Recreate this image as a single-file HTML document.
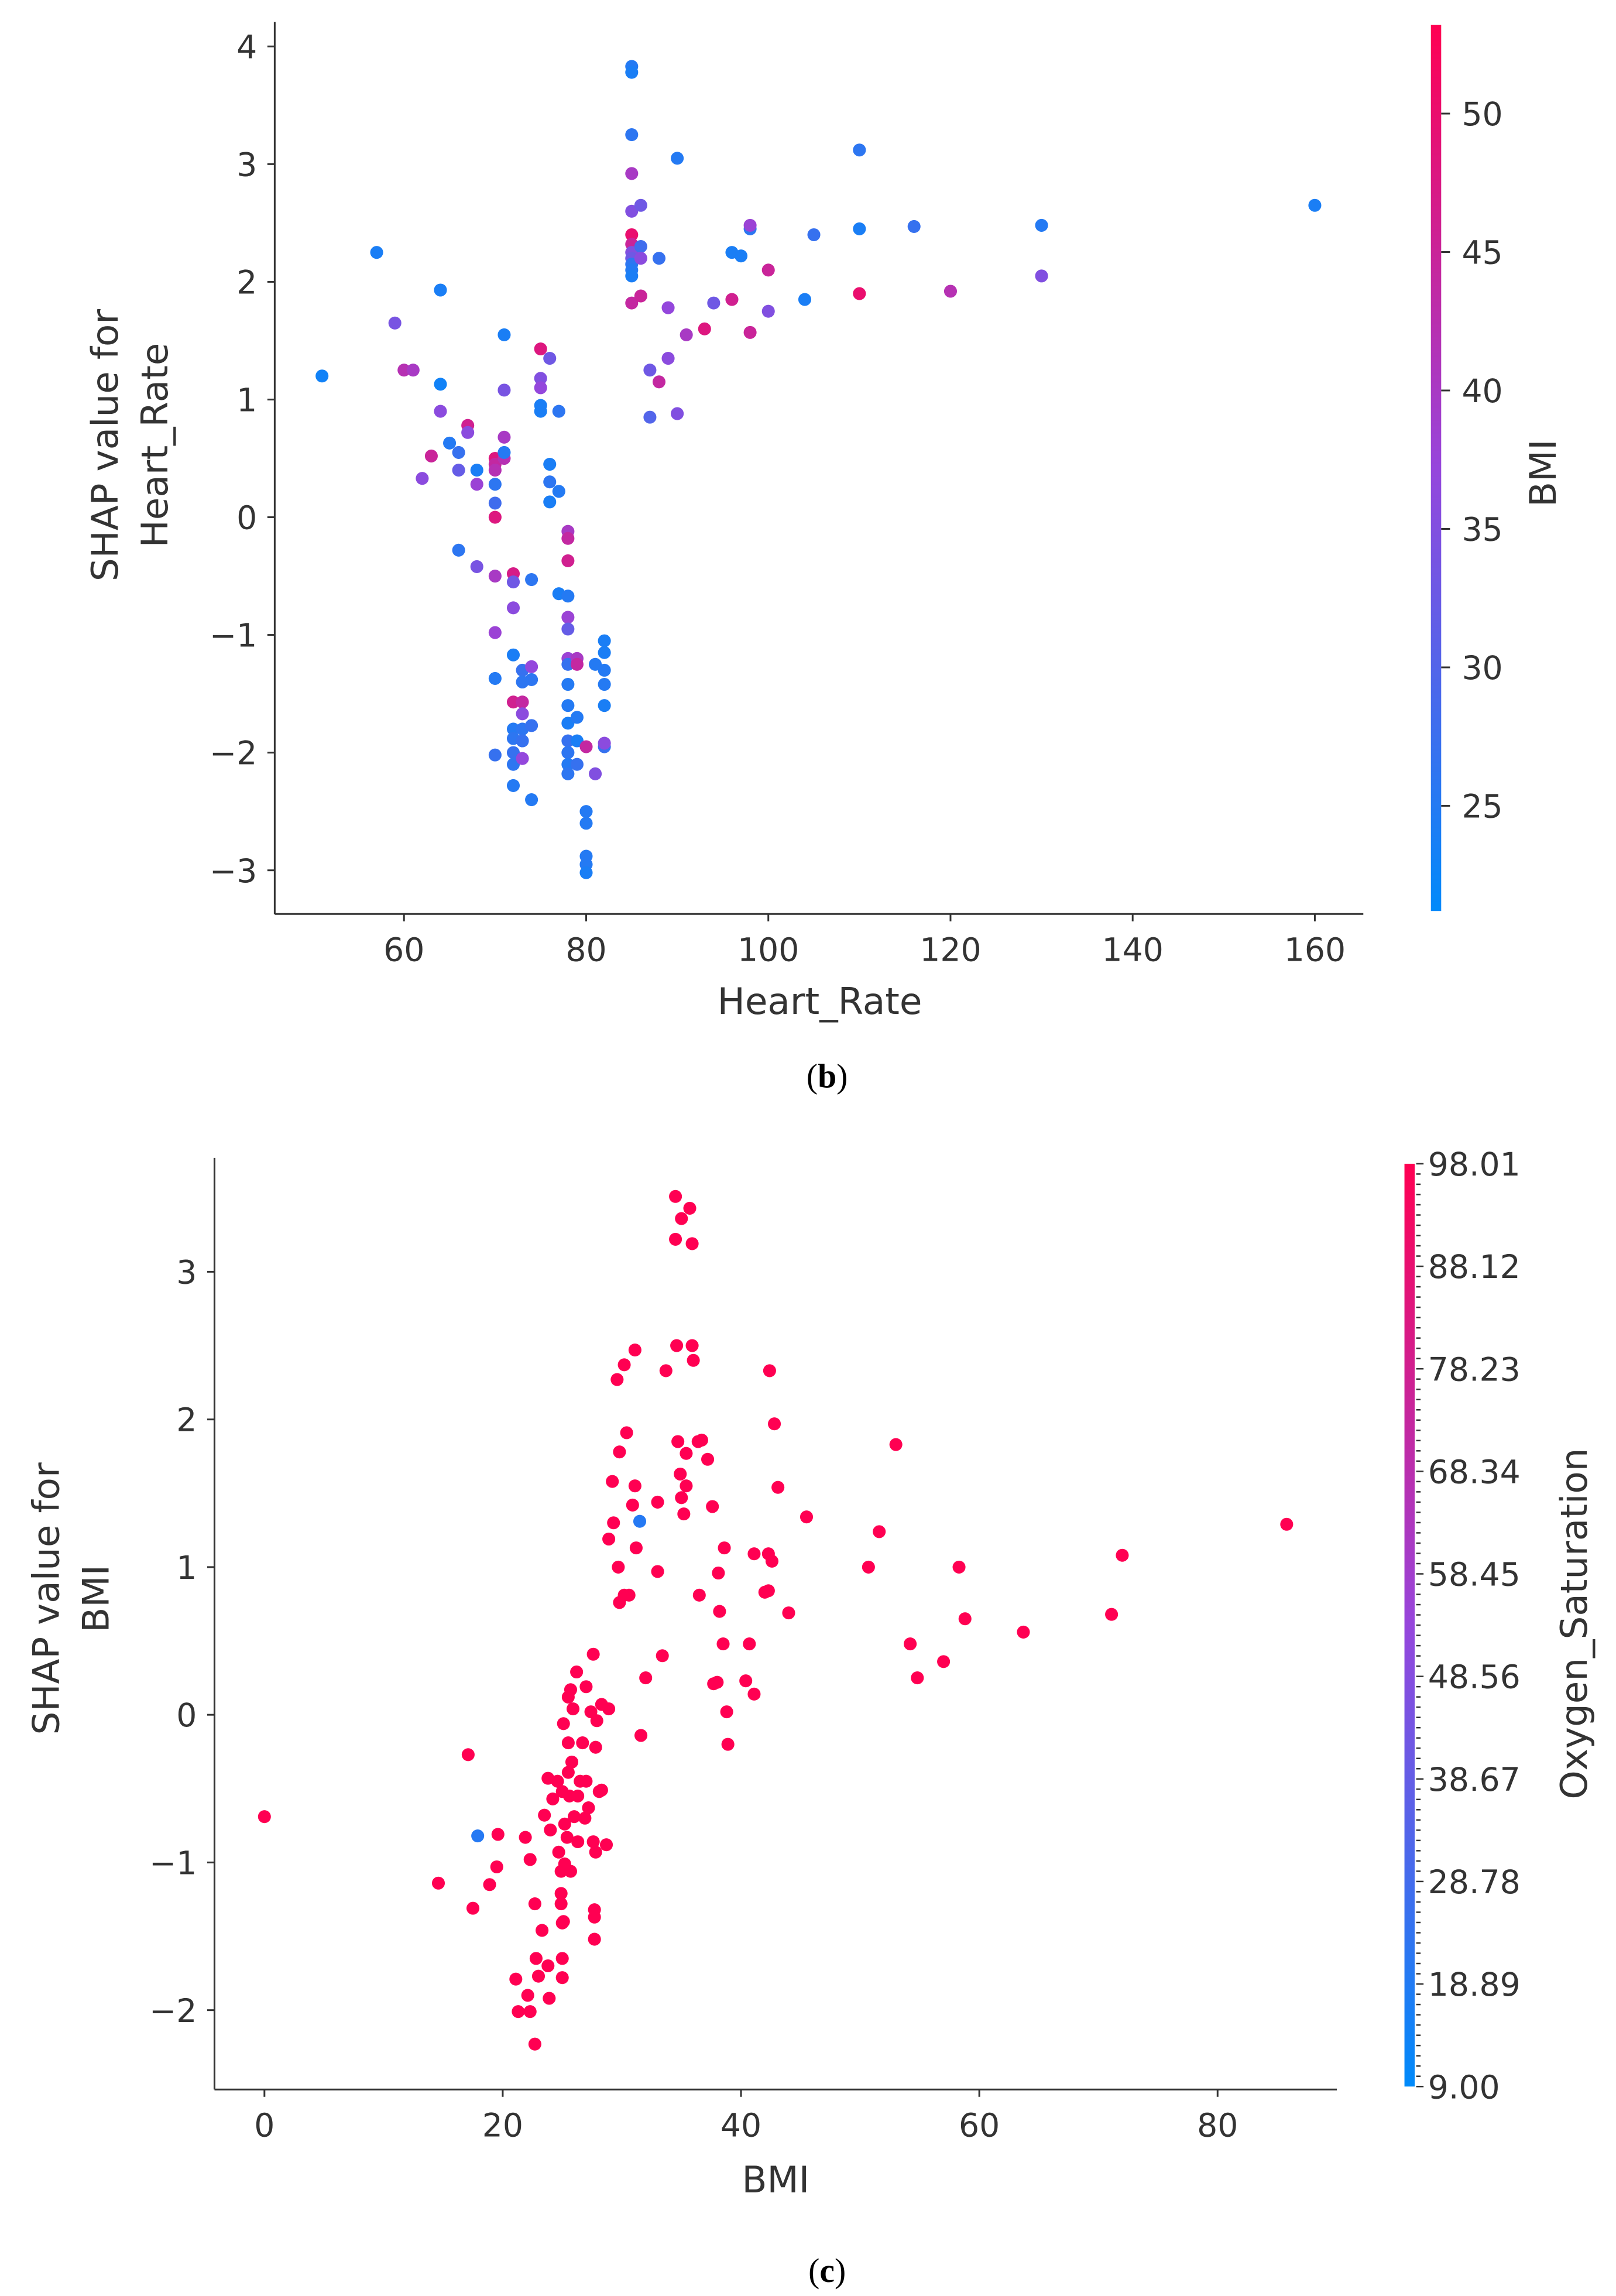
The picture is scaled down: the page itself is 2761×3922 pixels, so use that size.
<!DOCTYPE html>
<html><head><meta charset="utf-8"><style>
html,body{margin:0;padding:0;background:#fff;}
svg{display:block;}
text{font-family:"DejaVu Sans","Liberation Sans",sans-serif;fill:#333;}
</style></head><body>
<svg id="fig" width="2761" height="3922" viewBox="0 0 1100 1562.55" xmlns="http://www.w3.org/2000/svg">
<defs>
<linearGradient id="cbgrad" x1="0" y1="1" x2="0" y2="0">
<stop offset="0" stop-color="rgb(0,138,250)"/>
<stop offset="0.5" stop-color="rgb(150,70,220)"/>
<stop offset="1" stop-color="rgb(255,0,82)"/>
</linearGradient>
</defs>
<g id="chartB"></g>
<g id="chartC"></g>
</svg>
<script>
// ---- Chart (b) data ----
const hrValues=[51,57,59,60,61,62,63,64,64,64,65,66,66,66,67,67,68,68,68,70,70,70,70,70,70,70,70,70,70,71,71,71,71,71,72,72,72,72,72,72,72,72,72,72,73,73,73,73,73,73,73,74,74,74,74,74,75,75,75,75,75,76,76,76,76,77,77,77,78,78,78,78,78,78,78,78,78,78,78,78,78,78,78,79,79,79,79,79,80,80,80,80,80,80,81,81,82,82,82,82,82,82,82,85,85,85,85,85,85,85,85,85,85,85,85,85,86,86,86,86,87,87,88,88,89,89,90,90,91,93,94,96,96,97,98,98,98,100,100,104,105,110,110,110,116,120,130,130,160];
const hrShap=[1.2,2.25,1.65,1.25,1.25,0.33,0.52,1.93,1.13,0.9,0.63,0.55,0.4,-0.28,0.78,0.72,0.4,0.28,-0.42,0.5,0.45,0.4,0.28,0.12,0,-0.5,-0.98,-1.37,-2.02,1.55,1.08,0.68,0.5,0.55,-0.48,-0.55,-0.77,-1.17,-1.57,-1.8,-1.88,-2.0,-2.1,-2.28,-1.3,-1.4,-1.57,-1.67,-1.8,-1.9,-2.05,-0.53,-1.27,-1.38,-1.77,-2.4,1.43,1.18,1.1,0.95,0.9,1.35,0.45,0.3,0.13,0.9,0.22,-0.65,-0.67,-0.12,-0.18,-0.37,-0.85,-0.95,-1.2,-1.25,-1.42,-1.6,-1.75,-1.9,-2.0,-2.1,-2.18,-1.2,-1.25,-1.7,-1.9,-2.1,-1.95,-2.5,-2.6,-2.88,-2.95,-3.02,-1.25,-2.18,-1.05,-1.15,-1.3,-1.42,-1.6,-1.95,-1.92,3.83,3.78,3.25,2.92,2.6,2.4,2.32,2.25,2.2,2.15,2.1,2.05,1.82,2.65,2.3,2.2,1.88,1.25,0.85,2.2,1.15,1.78,1.35,3.05,0.88,1.55,1.6,1.82,1.85,2.25,2.22,2.45,2.48,1.57,2.1,1.75,1.85,2.4,3.12,2.45,1.9,2.47,1.92,2.48,2.05,2.65];
const hrBmi=[23,24,34,42,40,36,45,24,23,36,25,27,32,26,46,36,24,38,34,48,44,42,26,28,48,40,38,25,27,24,34,40,42,25,47,33,36,24,46,25,26,27,26,25,27,26,44,36,26,27,37,26,37,26,27,25,48,35,37,24,24,33,24,26,24,26,25,24,25,40,44,46,38,32,38,27,25,25,24,27,26,25,26,40,44,25,24,27,44,25,25,25,25,24,25,35,24,24,25,25,24,27,36,25,24,26,40,35,50,45,35,33,26,25,24,44,33,28,36,45,33,30,27,44,37,36,25,35,40,48,33,46,24,24,26,38,45,45,35,24,27,26,24,50,27,42,25,35,24];
const hrXTicks=[60,80,100,120,140,160];
const hrYTicks=[4,3,2,1,0,-1,-2,-3];
const bmiCbTicks=[50,45,40,35,30,25];

// ---- Chart (c) data ----
const bmiValues=[0,14.6,17.1,17.5,17.9,18.9,19.5,19.6,21.1,21.3,21.9,22.1,22.3,22.3,22.7,22.7,22.8,23,23.3,23.5,23.8,23.8,23.9,24,24.2,24.6,24.7,24.9,24.9,24.9,25,25,25,25.1,25,25.1,25.2,25.2,25.4,25.5,25.5,25.5,25.6,25.7,25.7,25.8,25.9,26,26.2,26.3,26.3,26.5,26.7,26.9,27,27,27.2,27.4,27.6,27.7,27.7,27.7,27.8,27.8,27.9,28.1,28.3,28.3,28.7,27.6,28.9,28.9,29.2,29.3,29.6,29.7,29.8,29.8,30.2,30.2,30.4,30.6,30.9,31.1,31.1,31.2,31.5,31.6,32,33,33,33.4,33.7,34.5,34.5,34.6,34.7,34.9,35,35,35.2,35.4,35.4,35.7,35.9,35.9,36,36.4,36.5,36.7,37.2,37.6,37.7,38,38.1,38.2,38.5,38.6,38.8,38.9,40.4,40.7,41.1,41.1,42,42.3,42.3,42.4,42.6,42.8,43.1,44,45.5,50.7,51.6,53,54.2,54.8,57,58.3,58.8,63.7,71.1,72,85.8];
const bmiShap=[-0.69,-1.14,-0.27,-1.31,-0.82,-1.15,-1.03,-0.81,-1.79,-2.01,-0.83,-1.9,-0.98,-2.01,-2.23,-1.28,-1.65,-1.77,-1.46,-0.68,-0.43,-1.7,-1.92,-0.78,-0.57,-0.45,-0.93,-1.06,-1.21,-1.28,-1.41,-1.65,-1.78,-1.4,-0.52,-0.06,-0.74,-1.01,-0.83,0.12,-0.19,-0.39,-0.55,0.17,-1.06,-0.32,0.04,-0.69,0.29,-0.55,-0.86,-0.45,-0.19,-0.7,0.19,-0.45,-0.63,0.02,-0.86,-1.37,-1.52,-1.32,-0.22,-0.93,-0.04,-0.52,-0.51,0.07,-0.88,0.41,0.04,1.19,1.58,1.3,2.27,1.0,1.78,0.76,2.37,0.81,1.91,0.81,1.42,2.47,1.55,1.13,1.31,-0.14,0.25,0.97,1.44,0.4,2.33,3.51,3.22,2.5,1.85,1.63,1.47,3.36,1.36,1.55,1.77,3.43,3.19,2.5,2.4,1.85,0.81,1.86,1.73,1.41,0.21,0.22,0.96,0.7,0.48,1.13,0.02,-0.2,0.23,0.48,1.09,0.14,0.83,1.09,0.84,2.33,1.04,1.97,1.54,0.69,1.34,1.0,1.24,1.83,0.48,0.25,0.36,1.0,0.65,0.56,0.68,1.08,1.29];
const bmiO2=[98,98,98,98,20,98,98,98,98,98,98,98,98,98,98,98,98,98,98,98,98,98,98,98,98,98,98,98,98,98,98,98,98,98,98,98,98,98,98,98,98,98,98,98,98,98,98,98,98,98,98,98,98,98,98,98,98,98,98,98,98,98,98,98,98,98,98,98,98,98,98,98,98,98,98,98,98,98,98,98,98,98,98,98,98,98,20,98,98,98,98,98,98,98,98,98,98,98,98,98,98,98,98,98,98,98,98,98,98,98,98,98,98,98,98,98,98,98,98,98,98,98,98,98,98,98,98,98,98,98,98,98,98,98,98,98,98,98,98,98,98,98,98,98,98];
const bmiXTicks=[0,20,40,60,80];
const bmiYTicks=[3,2,1,0,-1,-2];
const o2CbTicks=[98.01,88.12,78.23,68.34,58.45,48.56,38.67,28.78,18.89,9.00];

const NS='http://www.w3.org/2000/svg';
function mk(tag,attrs,parent,txt){const e=document.createElementNS(NS,tag);for(const k in attrs)e.setAttribute(k,attrs[k]);if(txt!==undefined)e.textContent=txt;parent.appendChild(e);return e;}
function lerp(a,b,t){return a+(b-a)*t;}
function cmap(t){if(isNaN(t))t=1;t=Math.max(0,Math.min(1,t));const s=[[0,138,250],[150,70,220],[255,0,82]];let a,b,u;if(t<0.5){a=s[0];b=s[1];u=t/0.5;}else{a=s[1];b=s[2];u=(t-0.5)/0.5;}return 'rgb('+Math.round(lerp(a[0],b[0],u))+','+Math.round(lerp(a[1],b[1],u))+','+Math.round(lerp(a[2],b[2],u))+')';}

function drawChart(g,cfg){
  const X=v=>cfg.x0px+(v-cfg.x0v)*cfg.xs;
  const Y=v=>cfg.y0px-(v-cfg.y0v)*cfg.ys;
  const CY=v=>cfg.cbBot-(v-cfg.cbMin)/(cfg.cbMax-cfg.cbMin)*(cfg.cbBot-cfg.cbTop);
  const ax=mk('g',{},g);
  
  
  const yl=mk('line',{x1:cfg.left,y1:cfg.top,x2:cfg.left,y2:cfg.bottom,stroke:'#333','stroke-width':1.2},ax);
  
  
  const xl=mk('line',{x1:cfg.left,y1:cfg.bottom,x2:cfg.right,y2:cfg.bottom,stroke:'#333','stroke-width':1.2},ax);
  
  
  cfg.xt.forEach(v=>{
    mk('line',{x1:X(v),y1:cfg.bottom,x2:X(v),y2:cfg.bottom+5,stroke:'#333','stroke-width':1.2},ax);
    const t=mk('text',{x:X(v),y:cfg.bottom+32,'text-anchor':'middle','font-size':22},ax,String(v));
    
    
  });
  cfg.yt.forEach(v=>{
    mk('line',{x1:cfg.left-5,y1:Y(v),x2:cfg.left,y2:Y(v),stroke:'#333','stroke-width':1.2},ax);
    const t=mk('text',{x:cfg.left-12,y:Y(v)+8,'text-anchor':'end','font-size':22},ax,(v<0?'\u2212'+(-v):String(v)));
    
    
  });
  const xlab=mk('text',{x:cfg.xlabX,y:cfg.xlabY,'text-anchor':'middle','font-size':25,fill:'#444'},g,cfg.xlab);
  
  
  const ylab=mk('text',{transform:'translate('+cfg.ylabX+','+cfg.ylabY+') rotate(-90)','text-anchor':'middle','font-size':25,fill:'#444'},g);
  
  
  mk('tspan',{x:0,dy:0},ylab,'SHAP value for');
  mk('tspan',{x:0,dy:34},ylab,cfg.ylab2);
  const pts=mk('g',{},g);
  
  
  for(let i=0;i<cfg.xs_d.length;i++){
    const c=mk('circle',{cx:X(cfg.xs_d[i]),cy:Y(cfg.ys_d[i]),r:4.4,fill:cmap((cfg.cs_d[i]-cfg.cbMin)/(cfg.cbMax-cfg.cbMin))},pts);
    
    
  }
  const cb=mk('g',{},g);
  
  
  mk('rect',{x:cfg.cbX,y:cfg.cbTop,width:cfg.cbW,height:cfg.cbBot-cfg.cbTop,fill:'url(#cbgrad)'},cb);
  if(cfg.minor){
    const n=cfg.cbt.length-1,step=(cfg.cbBot-cfg.cbTop)/(n*10);
    for(let k=0;k<=n*10;k++){const yy=cfg.cbTop+k*step;mk('line',{x1:cfg.cbX+cfg.cbW+1,y1:yy,x2:cfg.cbX+cfg.cbW+(k%10===0?6:4),y2:yy,stroke:'#333','stroke-width':1},cb);}
  }
  cfg.cbt.forEach(v=>{
    const yy=CY(v);
    if(!cfg.minor) mk('line',{x1:cfg.cbX+cfg.cbW,y1:yy,x2:cfg.cbX+cfg.cbW+6,y2:yy,stroke:'#333','stroke-width':1.2},cb);
    const t=mk('text',{x:cfg.cbX+cfg.cbW+cfg.cbLabOff,y:yy+8,'font-size':22},cb,cfg.fmt(v));
    
    
  });
  const cl=mk('text',{transform:'translate('+cfg.cbLabX+','+cfg.cbLabY+') rotate(-90)','text-anchor':'middle','font-size':25,fill:'#444'},cb,cfg.cbLab);
  
  
  const cap=mk('text',{x:cfg.capX,y:cfg.capY,'text-anchor':'middle','font-size':23,style:'font-family:"Liberation Serif",serif;fill:#000'},g);
  
  
  mk('tspan',{},cap,'(');mk('tspan',{'font-weight':'bold'},cap,cfg.cap);mk('tspan',{},cap,')');
}

drawChart(document.getElementById('chartB'),{
  left:187,right:928,top:15,bottom:622,
  x0v:60,x0px:275,xs:6.2,y0v:0,y0px:352,ys:80.1,
  xt:hrXTicks,yt:hrYTicks,xs_d:hrValues,ys_d:hrShap,cs_d:hrBmi,
  cbMin:21.2,cbMax:53.2,cbX:974,cbW:7,cbTop:17,cbBot:620,cbt:bmiCbTicks,minor:false,cbLabOff:14,
  fmt:v=>String(v),cbLab:'BMI',cbLabX:1059,cbLabY:322,
  xlab:'Heart_Rate',xlabX:558,xlabY:690,ylab2:'Heart_Rate',ylabX:80,ylabY:303,
  cap:'b',capX:563,capY:740
});
drawChart(document.getElementById('chartC'),{
  left:146,right:910,top:788,bottom:1422,
  x0v:0,x0px:180,xs:8.11,y0v:0,y0px:1167,ys:100.5,
  xt:bmiXTicks,yt:bmiYTicks,xs_d:bmiValues,ys_d:bmiShap,cs_d:bmiO2,
  cbMin:9,cbMax:98.01,cbX:956,cbW:7,cbTop:792,cbBot:1420,cbt:o2CbTicks,minor:true,cbLabOff:9,
  fmt:v=>v.toFixed(2),cbLab:'Oxygen_Saturation',cbLabX:1080,cbLabY:1105,
  xlab:'BMI',xlabX:528,xlabY:1492,ylab2:'BMI',ylabX:40,ylabY:1088,
  cap:'c',capX:563,capY:1553
});
</script>
</body></html>
